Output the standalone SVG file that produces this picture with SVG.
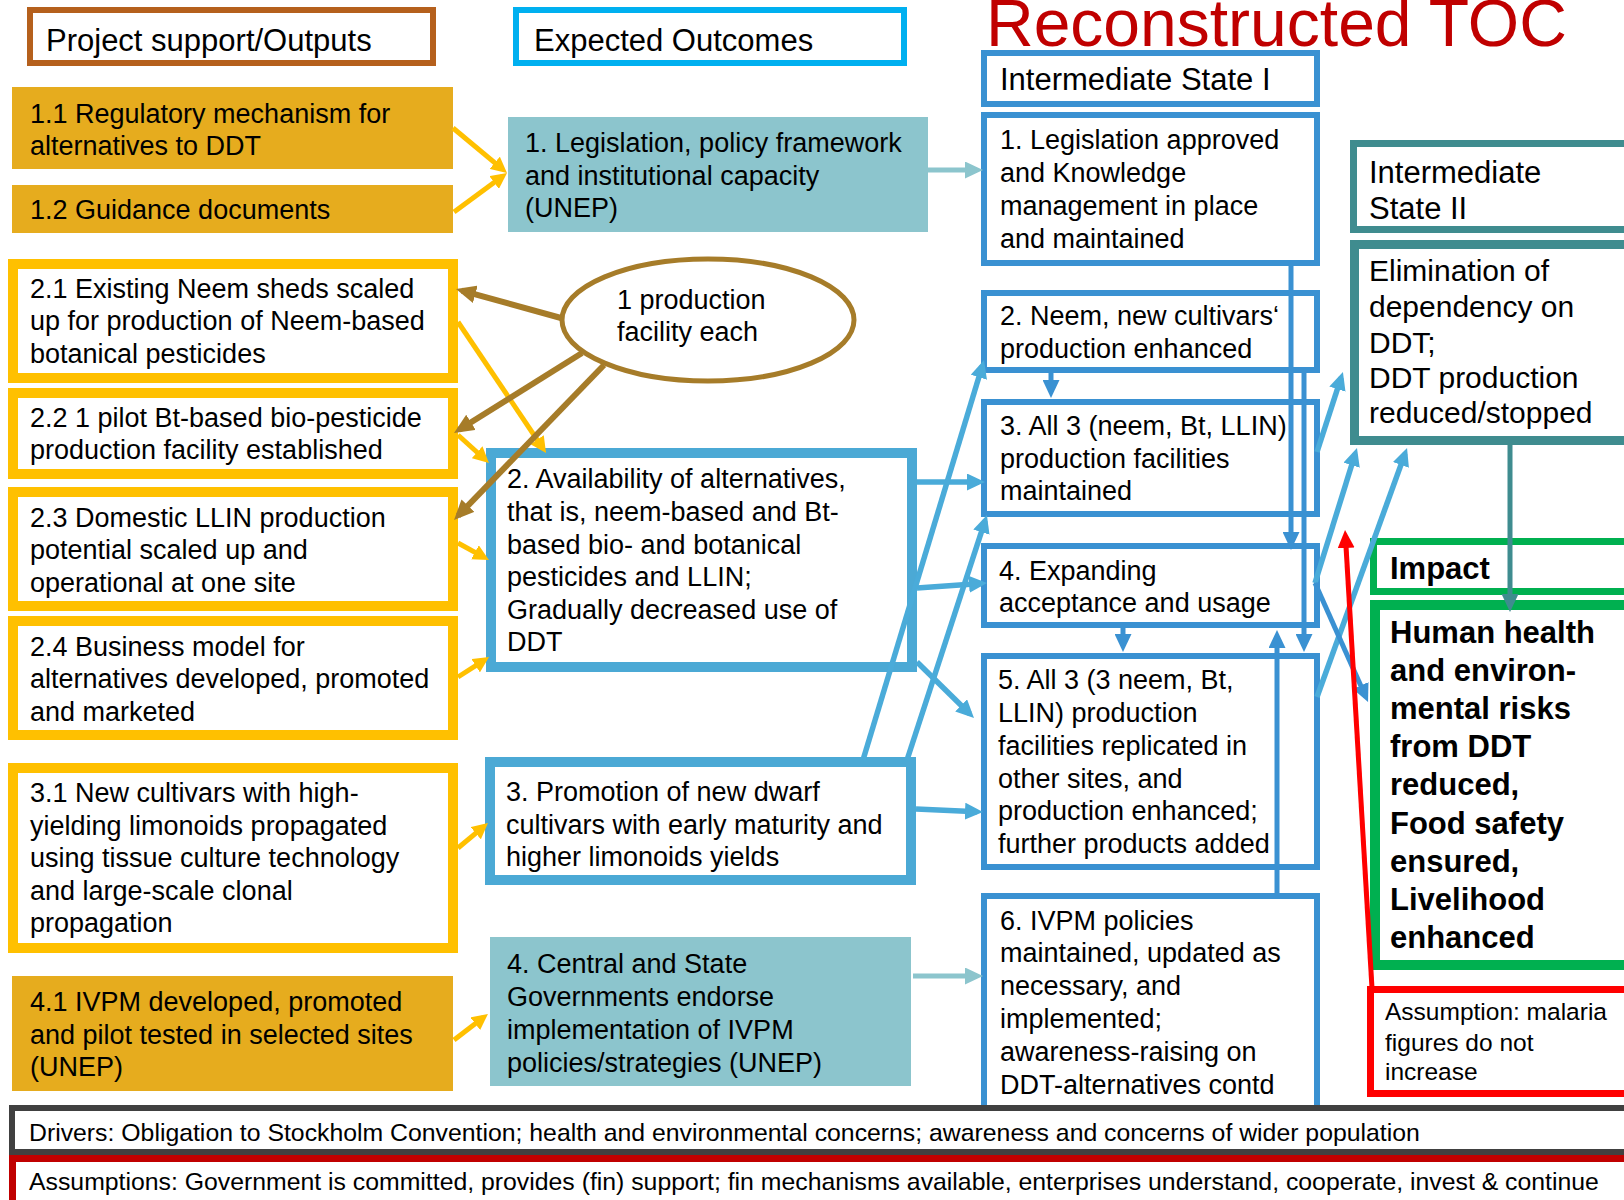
<svg xmlns="http://www.w3.org/2000/svg" width="1624" height="1200" viewBox="0 0 1624 1200">
<style>
text { font-family: "Liberation Sans", Arial, sans-serif; fill: #000; }
.b { font-size: 27px; }
.hd { font-size: 31px; }
.el { font-size: 30px; }
.imp { font-size: 31px; font-weight: bold; }
.sm { font-size: 24.5px; }
.bot { font-size: 24.8px; }
.title { font-size: 66px; fill: #C00000; }
.fillO { fill: #E6AC1E; stroke: none; }
.boxG { fill: #fff; stroke: #FFC000; stroke-width: 10; }
.fillT { fill: #8CC5CD; stroke: none; }
.boxA { fill: #fff; stroke: #4BA9D5; stroke-width: 10; }
.boxI { fill: #fff; stroke: #3A91D2; stroke-width: 6; }
.c { fill: none; stroke-linecap: butt; }
.cg { stroke: #FFC000; stroke-width: 5; marker-end: url(#mGold); }
.cb { stroke: #A67C29; stroke-width: 6; marker-end: url(#mBrown); }
.cl { stroke: #4AABD9; stroke-width: 5.5; marker-end: url(#mBlue); }
.cd { stroke: #3A91D2; stroke-width: 5; marker-end: url(#mDBlue); }
.ct { stroke: #8CC5CD; stroke-width: 5; marker-end: url(#mLTeal); }
.cteal { stroke: #3F8C8F; stroke-width: 5; marker-end: url(#mTeal); }
.cr { stroke: #FF0000; stroke-width: 5; marker-end: url(#mRed); }
</style>
<defs>
<marker id="mGold" markerUnits="userSpaceOnUse" markerWidth="16" markerHeight="16" refX="10" refY="8" orient="auto"><path d="M0,0 L16,8 L0,16 z" fill="#FFC000"/></marker>
<marker id="mBrown" markerUnits="userSpaceOnUse" markerWidth="20" markerHeight="18" refX="14" refY="9" orient="auto"><path d="M0,0 L20,9 L0,18 z" fill="#A67C29"/></marker>
<marker id="mBlue" markerUnits="userSpaceOnUse" markerWidth="18" markerHeight="17" refX="12" refY="8.5" orient="auto"><path d="M0,0 L18,8.5 L0,17 z" fill="#4AABD9"/></marker>
<marker id="mDBlue" markerUnits="userSpaceOnUse" markerWidth="18" markerHeight="17" refX="12" refY="8.5" orient="auto"><path d="M0,0 L18,8.5 L0,17 z" fill="#3A91D2"/></marker>
<marker id="mLTeal" markerUnits="userSpaceOnUse" markerWidth="18" markerHeight="17" refX="12" refY="8.5" orient="auto"><path d="M0,0 L18,8.5 L0,17 z" fill="#8CC5CD"/></marker>
<marker id="mTeal" markerUnits="userSpaceOnUse" markerWidth="18" markerHeight="17" refX="12" refY="8.5" orient="auto"><path d="M0,0 L18,8.5 L0,17 z" fill="#3F8C8F"/></marker>
<marker id="mRed" markerUnits="userSpaceOnUse" markerWidth="18" markerHeight="17" refX="12" refY="8.5" orient="auto"><path d="M0,0 L18,8.5 L0,17 z" fill="#FF0000"/></marker>
</defs>
<rect x="0" y="0" width="1624" height="1200" fill="#fff"/>

<g id="title"><text class="title" x="986" y="46">Reconstructed TOC</text></g>

<g id="hdr-outputs"><rect x="30" y="10" width="403" height="53" fill="#fff" stroke="#B5601D" stroke-width="6"/><text class="hd" x="46" y="51">Project support/Outputs</text></g>
<g id="hdr-outcomes"><rect x="516" y="10" width="388" height="53" fill="#fff" stroke="#00B0F0" stroke-width="6"/><text class="hd" x="534" y="51">Expected Outcomes</text></g>
<g id="hdr-is1"><rect class="boxI" x="984" y="53" width="333" height="51"/><text class="hd" x="1000" y="90">Intermediate State I</text></g>
<g id="hdr-is2"><rect x="1353.5" y="143.5" width="400" height="86" fill="#fff" stroke="#3F8C8F" stroke-width="7"/><text class="hd"><tspan x="1369" y="183">Intermediate</tspan><tspan x="1369" y="219">State II</tspan></text></g>

<g id="o11"><rect class="fillO" x="12" y="87" width="441" height="82"/><text class="b"><tspan x="30" y="123">1.1 Regulatory mechanism for</tspan><tspan x="30" y="155">alternatives to DDT</tspan></text></g>
<g id="o12"><rect class="fillO" x="12" y="185" width="441" height="48"/><text class="b" x="30" y="219">1.2 Guidance documents</text></g>
<g id="o21"><rect class="boxG" x="13" y="264" width="440" height="114"/><text class="b"><tspan x="30" y="298">2.1 Existing Neem sheds scaled</tspan><tspan x="30" y="330">up for production of Neem-based</tspan><tspan x="30" y="363">botanical pesticides</tspan></text></g>
<g id="o22"><rect class="boxG" x="13" y="393" width="440" height="81"/><text class="b"><tspan x="30" y="427">2.2 1 pilot Bt-based bio-pesticide</tspan><tspan x="30" y="459">production facility established</tspan></text></g>
<g id="o23"><rect class="boxG" x="13" y="492" width="440" height="114"/><text class="b"><tspan x="30" y="527">2.3 Domestic LLIN production</tspan><tspan x="30" y="559">potential scaled up and</tspan><tspan x="30" y="592">operational at one site</tspan></text></g>
<g id="o24"><rect class="boxG" x="13" y="621" width="440" height="114"/><text class="b"><tspan x="30" y="656">2.4 Business model for</tspan><tspan x="30" y="688">alternatives developed, promoted</tspan><tspan x="30" y="721">and marketed</tspan></text></g>
<g id="o31"><rect class="boxG" x="13" y="768" width="440" height="180"/><text class="b"><tspan x="30" y="802">3.1 New cultivars with high-</tspan><tspan x="30" y="835">yielding limonoids propagated</tspan><tspan x="30" y="867">using tissue culture technology</tspan><tspan x="30" y="900">and large-scale clonal</tspan><tspan x="30" y="932">propagation</tspan></text></g>
<g id="o41"><rect class="fillO" x="12" y="976" width="441" height="115"/><text class="b"><tspan x="30" y="1011">4.1 IVPM developed, promoted</tspan><tspan x="30" y="1044">and pilot tested in selected sites</tspan><tspan x="30" y="1076">(UNEP)</tspan></text></g>

<g id="e1"><rect class="fillT" x="508" y="117" width="420" height="115"/><text class="b"><tspan x="525" y="152">1. Legislation, policy framework</tspan><tspan x="525" y="185">and institutional capacity</tspan><tspan x="525" y="217">(UNEP)</tspan></text></g>
<g id="ellipse"><ellipse cx="708" cy="320" rx="146" ry="61" fill="#fff" stroke="#A67C29" stroke-width="5"/><text class="b"><tspan x="617" y="309">1 production</tspan><tspan x="617" y="341">facility each</tspan></text></g>
<g id="e2"><rect class="boxA" x="491" y="453" width="421" height="214"/><text class="b"><tspan x="507" y="488">2. Availability of alternatives,</tspan><tspan x="507" y="521">that is, neem-based and Bt-</tspan><tspan x="507" y="554">based bio- and botanical</tspan><tspan x="507" y="586">pesticides and LLIN;</tspan><tspan x="507" y="619">Gradually decreased use of</tspan><tspan x="507" y="651">DDT</tspan></text></g>
<g id="e3"><rect class="boxA" x="490" y="762" width="421" height="118"/><text class="b"><tspan x="506" y="801">3. Promotion of new dwarf</tspan><tspan x="506" y="834">cultivars with early maturity and</tspan><tspan x="506" y="866">higher limonoids yields</tspan></text></g>
<g id="e4"><rect class="fillT" x="490" y="937" width="421" height="149"/><text class="b"><tspan x="507" y="973">4. Central and State</tspan><tspan x="507" y="1006">Governments endorse</tspan><tspan x="507" y="1039">implementation of IVPM</tspan><tspan x="507" y="1072">policies/strategies (UNEP)</tspan></text></g>

<g id="is1"><rect class="boxI" x="984" y="115" width="333" height="148"/><text class="b"><tspan x="1000" y="149">1. Legislation approved</tspan><tspan x="1000" y="182">and Knowledge</tspan><tspan x="1000" y="215">management in place</tspan><tspan x="1000" y="248">and maintained</tspan></text></g>
<g id="is2"><rect class="boxI" x="984" y="293" width="333" height="77"/><text class="b"><tspan x="1000" y="325">2. Neem, new cultivars‘</tspan><tspan x="1000" y="358">production enhanced</tspan></text></g>
<g id="is3"><rect class="boxI" x="984" y="402" width="333" height="112"/><text class="b"><tspan x="1000" y="435">3. All 3 (neem, Bt, LLIN)</tspan><tspan x="1000" y="468">production facilities</tspan><tspan x="1000" y="500">maintained</tspan></text></g>
<g id="is4"><rect class="boxI" x="984" y="546" width="333" height="79"/><text class="b"><tspan x="999" y="580">4. Expanding</tspan><tspan x="999" y="612">acceptance and usage</tspan></text></g>
<g id="is5"><rect class="boxI" x="984" y="656" width="333" height="211"/><text class="b"><tspan x="998" y="689">5. All 3 (3 neem, Bt,</tspan><tspan x="998" y="722">LLIN) production</tspan><tspan x="998" y="755">facilities replicated in</tspan><tspan x="998" y="788">other sites, and</tspan><tspan x="998" y="820">production enhanced;</tspan><tspan x="998" y="853">further products added</tspan></text></g>
<g id="is6"><rect class="boxI" x="984" y="896" width="333" height="213"/><text class="b"><tspan x="1000" y="930">6. IVPM policies</tspan><tspan x="1000" y="962">maintained, updated as</tspan><tspan x="1000" y="995">necessary, and</tspan><tspan x="1000" y="1028">implemented;</tspan><tspan x="1000" y="1061">awareness-raising on</tspan><tspan x="1000" y="1094">DDT-alternatives contd</tspan></text></g>

<g id="is2body"><rect x="1354.5" y="244.5" width="400" height="196" fill="#fff" stroke="#3F8C8F" stroke-width="9"/><text class="el"><tspan x="1369" y="281">Elimination of</tspan><tspan x="1369" y="317">dependency on</tspan><tspan x="1369" y="353">DDT;</tspan><tspan x="1369" y="388">DDT production</tspan><tspan x="1369" y="423">reduced/stopped</tspan></text></g>
<g id="hdr-impact"><rect x="1373.5" y="541.5" width="400" height="50" fill="#fff" stroke="#00B050" stroke-width="7"/><text class="imp" x="1390" y="579">Impact</text></g>
<g id="impact"><rect x="1375" y="605" width="400" height="360" fill="#fff" stroke="#00B050" stroke-width="10"/><text class="imp"><tspan x="1390" y="643">Human health</tspan><tspan x="1390" y="681">and environ-</tspan><tspan x="1390" y="719">mental risks</tspan><tspan x="1390" y="757">from DDT</tspan><tspan x="1390" y="795">reduced,</tspan><tspan x="1390" y="834">Food safety</tspan><tspan x="1390" y="872">ensured,</tspan><tspan x="1390" y="910">Livelihood</tspan><tspan x="1390" y="948">enhanced</tspan></text></g>
<g id="assumption-malaria"><rect x="1370.5" y="989.5" width="400" height="104" fill="#fff" stroke="#FF0000" stroke-width="7"/><text class="sm"><tspan x="1385" y="1020">Assumption:  malaria</tspan><tspan x="1385" y="1051">figures do not</tspan><tspan x="1385" y="1080">increase</tspan></text></g>

<g id="drivers"><rect x="12" y="1108" width="1650" height="44" fill="#fff" stroke="#404040" stroke-width="6"/><text class="bot" x="29" y="1141">Drivers: Obligation to Stockholm Convention; health and environmental concerns; awareness and concerns of wider population</text></g>
<g id="assumptions"><rect x="12.5" y="1158.5" width="1650" height="70" fill="#fff" stroke="#C00000" stroke-width="7"/><text class="bot" x="29" y="1190">Assumptions: Government is committed, provides (fin) support; fin mechanisms available, enterprises understand, cooperate, invest &amp; continue</text></g>

<g id="connectors">
<line class="c cg" x1="453" y1="128" x2="502.4" y2="169.2"/>
<line class="c cg" x1="454" y1="212" x2="502.2" y2="176.6"/>
<line class="c cg" x1="458" y1="322" x2="542.7" y2="448"/>
<line class="c cg" x1="458" y1="435" x2="484.5" y2="459"/>
<line class="c cg" x1="458" y1="543" x2="483.7" y2="557.1"/>
<line class="c cg" x1="458" y1="677" x2="484" y2="660.3"/>
<line class="c cg" x1="458" y1="848" x2="483.4" y2="826.8"/>
<line class="c cg" x1="454" y1="1040" x2="483.2" y2="1017.6"/>
<line class="c cb" x1="561" y1="318" x2="461.8" y2="290.6"/>
<line class="c cb" x1="582" y1="353" x2="459.1" y2="429.8"/>
<line class="c cb" x1="604" y1="365" x2="458.2" y2="515.7"/>
<line class="c ct" x1="928" y1="170" x2="977" y2="170"/>
<line class="c ct" x1="913" y1="976" x2="977" y2="976"/>
<line class="c cl" x1="917" y1="482" x2="979" y2="482"/>
<line class="c cl" x1="917" y1="588" x2="981" y2="583.4"/>
<line class="c cl" x1="917" y1="662" x2="969.7" y2="713.8"/>
<line class="c cl" x1="863" y1="760" x2="982.3" y2="365.7"/>
<line class="c cl" x1="907" y1="760" x2="985.1" y2="520.7"/>
<line class="c cl" x1="916" y1="809" x2="977" y2="811.7"/>
<line class="c cd" x1="1291" y1="266" x2="1291" y2="544"/>
<line class="c cd" x1="1304" y1="373" x2="1304" y2="646"/>
<line class="c cd" x1="1277" y1="893" x2="1277" y2="636"/>
<line class="c cd" x1="1051" y1="373" x2="1051" y2="392"/>
<line class="c cd" x1="1123" y1="628" x2="1123" y2="646"/>
<line class="c cl" x1="1317" y1="452" x2="1341.1" y2="377.7"/>
<line class="c cl" x1="1315" y1="583" x2="1355.2" y2="453.7"/>
<line class="c cl" x1="1317" y1="697" x2="1405" y2="453.6"/>
<line class="c cd" x1="1315" y1="583" x2="1365.6" y2="696.5"/>
<line class="c cteal" x1="1510" y1="445" x2="1510" y2="606"/>
<line class="c cr" x1="1372" y1="988" x2="1345.4" y2="536"/>
</g>
</svg>
